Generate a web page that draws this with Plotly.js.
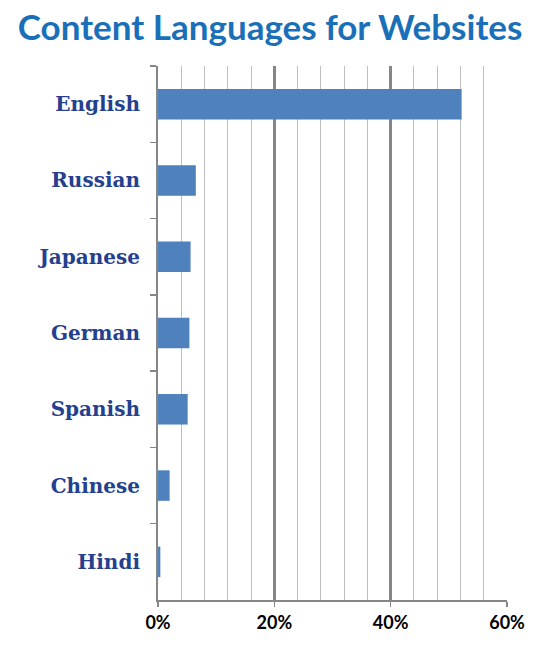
<!DOCTYPE html>
<html>
<head>
<meta charset="utf-8">
<script src="https://cdn.plot.ly/plotly-3.0.1.min.js"></script>
<style>
  body { margin: 0; background: #fff; }
  #chart { width: 550px; height: 650px; }
</style>
</head>
<body>
<div id="chart"></div>
<script>
// languages, top to bottom
var languages = ['English', 'Russian', 'Japanese', 'German', 'Spanish', 'Chinese', 'Hindi'];
// share of websites (fraction)
var shares = [0.522, 0.065, 0.056, 0.054, 0.051, 0.020, 0.004];
var xTicks = [0, 0.2, 0.4, 0.6];
var xTickText = ['0%', '20%', '40%', '60%'];

var trace1 =
{
    x: shares,
    y: languages,
    type: 'bar',
    orientation: 'h',
    marker: {color: '#4F81BD'},
    hoverinfo: 'none'
};

var layout =
{
    width: 550,
    height: 650,
    paper_bgcolor: '#ffffff',
    plot_bgcolor: '#ffffff',
    showlegend: false,
    bargap: 0.6,
    title: {
        text: '<b>Content Languages for Websites</b>',
        font: {family: 'Lato, Open Sans, sans-serif', size: 35, color: '#1A70B8'},
        x: 0.491, xanchor: 'center',
        y: 0.957, yanchor: 'middle'
    },
    xaxis: {
        range: [0, 0.6],
        tickvals: xTicks,
        ticktext: xTickText,
        tickfont: {family: 'Lato, Open Sans, sans-serif', size: 18, color: '#000000', weight: 'bold'},
        showgrid: true, gridcolor: '#868686', gridwidth: 3,
        minor: {dtick: 0.04, tick0: 0, showgrid: true, gridcolor: '#BFBFBF', gridwidth: 1, ticks: ''},
        showline: true, linecolor: '#868686', linewidth: 2,
        ticks: 'outside', ticklen: 5, tickcolor: '#868686', tickwidth: 1.5,
        zeroline: false,
        fixedrange: true
    },
    yaxis: {
        type: 'category',
        categoryorder: 'array',
        categoryarray: languages,
        autorange: 'reversed',
        tickson: 'boundaries',
        ticks: 'outside', ticklen: 6, tickcolor: '#868686', tickwidth: 1.5,
        tickfont: {family: 'DejaVu Serif, serif', size: 20, color: '#24408E', weight: 'bold'},
        ticklabelstandoff: 12,
        showline: true, linecolor: '#868686', linewidth: 2,
        showgrid: false,
        zeroline: false,
        fixedrange: true
    },
    margin: {l: 158, r: 43, t: 66, b: 50}
};

Plotly.newPlot('chart', [trace1], layout, {displayModeBar: false, staticPlot: true});
</script>
</body>
</html>
